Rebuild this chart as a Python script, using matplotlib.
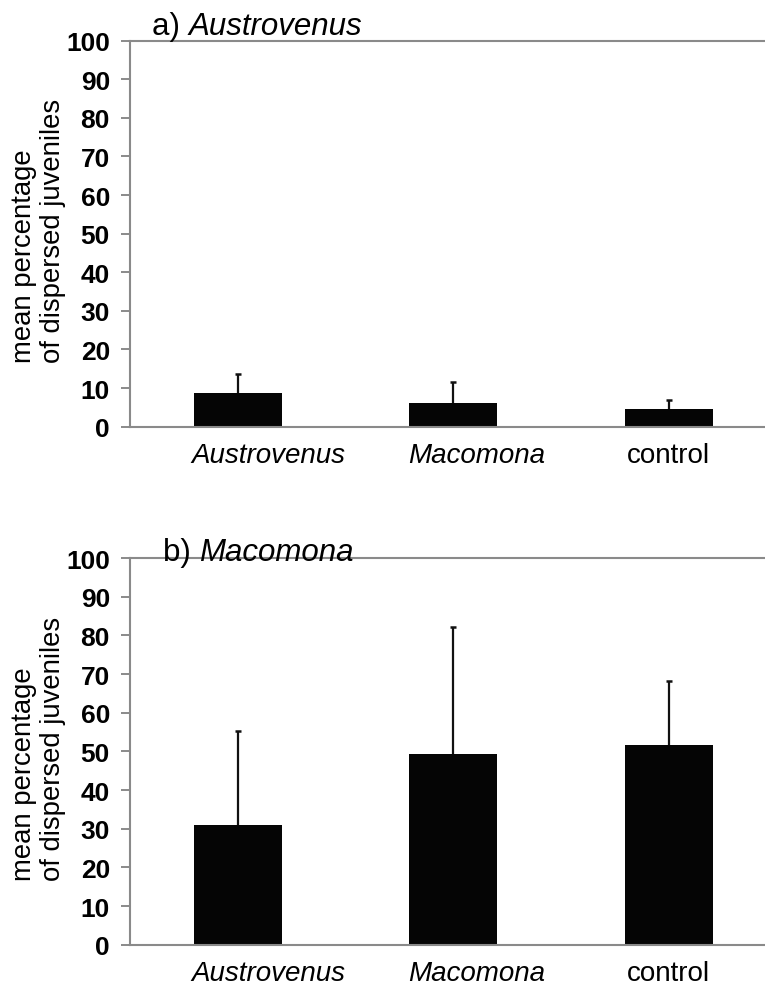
import matplotlib
matplotlib.use("Agg")
import matplotlib.pyplot as plt
import matplotlib.transforms as mtransforms

# data
categories = ["Austrovenus", "Macomona", "control"]
italic_cat = [True, True, False]
panel_titles = ["Austrovenus", "Macomona"]
panel_letters = ["a)", "b)"]
means_a = [8.7, 6.1, 4.5]
err_a = [4.9, 5.6, 2.4]
means_b = [31.0, 49.3, 51.6]
err_b = [24.3, 32.9, 16.7]
yticks = list(range(0, 101, 10))

plt.rcParams['font.family'] = ['Liberation Sans', 'DejaVu Sans']

fig = plt.figure(figsize=(7.65, 9.87), dpi=100)
ax_a = fig.add_axes([0.170, 0.5667, 0.845, 0.3911])
ax_b = fig.add_axes([0.170, 0.0418, 0.845, 0.3918])

grey = '#8a8a8a'
xpos = [0.5, 1.5, 2.5]
label_shift = [0.31, 0.23, 0.0]  # inches, italic labels sit off-centre
title_pos = {'a)': (0.034, 1.016), 'b)': (0.051, 0.996)}


def draw_panel(ax, means, errs, letter, title):
    ax.bar(xpos, means, width=0.41, color='#050505', edgecolor='none', zorder=2)
    eb = ax.errorbar(xpos, means, yerr=[[0] * len(errs), errs], fmt='none',
                     ecolor='#111111', elinewidth=1.6, capsize=2.2, capthick=1.8,
                     zorder=3)
    eb[1][0].set_visible(False)  # no cap on the lower (zero) side
    ax.set_xlim(0, 3)
    ax.set_ylim(0, 100)
    ax.set_yticks(yticks)
    ax.set_yticklabels([str(t) for t in yticks], fontsize=19, fontweight='bold')
    ax.tick_params(axis='y', direction='out', length=6.5, width=1.4, color=grey, pad=8)
    ax.set_xticks(xpos)
    ax.set_xticklabels(categories, fontsize=20)
    ax.tick_params(axis='x', length=0, pad=11)
    for lab, it, dx in zip(ax.get_xticklabels(), italic_cat, label_shift):
        if it:
            lab.set_style('italic')
        lab.set_transform(lab.get_transform() +
                          mtransforms.ScaledTranslation(dx, 0, fig.dpi_scale_trans))
    for s in ['left', 'bottom', 'top']:
        ax.spines[s].set_color(grey)
        ax.spines[s].set_linewidth(1.5)
    ax.spines['right'].set_visible(False)
    ax.text(-0.141, 0.51, "mean percentage\nof dispersed juveniles",
            rotation=90, ha='center', va='center', multialignment='left',
            fontsize=19.8, linespacing=1.15, transform=ax.transAxes)
    tx, ty = title_pos[letter]
    t = ax.text(tx, ty, letter + ' ', fontsize=22.5, ha='left', va='baseline',
                transform=ax.transAxes, zorder=5)
    fig.canvas.draw()
    bb = t.get_window_extent()
    x1 = ax.transAxes.inverted().transform((bb.x1, bb.y0))[0]
    ax.text(x1, ty, title, fontsize=22.5, style='italic', ha='left',
            va='baseline', transform=ax.transAxes, zorder=5)


draw_panel(ax_a, means_a, err_a, panel_letters[0], panel_titles[0])
draw_panel(ax_b, means_b, err_b, panel_letters[1], panel_titles[1])

fig.savefig("out.png", dpi=100)
